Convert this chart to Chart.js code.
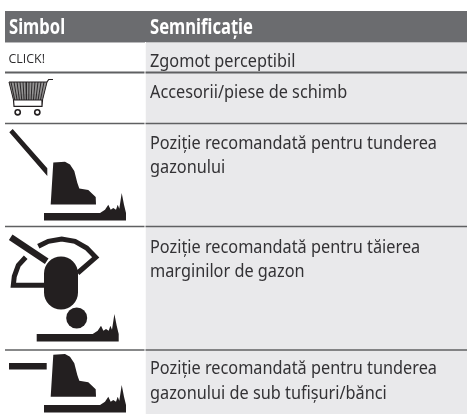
<!DOCTYPE html>
<html>
<head>
<meta charset="utf-8">
<style>
  html, body { margin: 0; padding: 0; background: #fff; }
  canvas { display: block; }
</style>
<script src="https://cdn.jsdelivr.net/npm/chart.js@4/dist/chart.umd.min.js"></script>
</head>
<body>
<canvas id="tableChart" width="467" height="414"></canvas>
<script>
// --- Table content ---
const headerLabels = ['Simbol', 'Semnificație'];
const clickLabel = 'CLICK!';
const meaningLines = [
    ['Zgomot perceptibil'],
    ['Accesorii/piese de schimb'],
    ['Poziție recomandată pentru tunderea', 'gazonului'],
    ['Poziție recomandată pentru tăierea', 'marginilor de gazon'],
    ['Poziție recomandată pentru tunderea', 'gazonului de sub tufișuri/bănci']
];
const meaningBaselines = [
    [66.5],
    [98],
    [148.5, 172.5],
    [252.5, 277],
    [374, 398.5]
];

// --- Table grid ---
const columnEdges = [5, 145, 467];
const headerTopBottom = [11, 42];
const rowEdges = [43, 73, 124, 227, 351, 414];
const ruleLevels = [72.5, 123.5, 226.5, 350];

// --- Icon outlines ---
const machineBody = [[53.3, 354.7], [65, 354], [70, 356.7], [74.3, 363.3], [77.3, 375], [79.3, 380.7], [88.3, 382.3], [95.7, 389.3], [96, 396.7], [50.7, 396.7]];
const groundShape = [[44, 405], [100, 405], [105, 401.7], [108.3, 396.7], [110.7, 401.7], [113.3, 400], [116, 401.7], [117.7, 396.7], [119.3, 400.7], [121.7, 385], [124, 396.7], [126, 405], [126, 412.5], [44, 412.5]];
const leverFlat = [[9, 363], [46.7, 363], [46.7, 369.5], [9, 369.5]];
const leverSloped = [[9.3, 132.3], [12.7, 129], [47.3, 168.3], [47.3, 176]];
const gaugeArcRight = [[38.3, 246.3], [48.3, 241.3], [61.7, 239], [75, 241.3], [86.7, 248], [95.7, 257.3], [77.7, 273]];
const gaugeArcLeft = [[25.7, 257.3], [18.3, 265.3], [14.3, 276.3], [13.3, 285.3], [45, 285.3]];
const gaugeLever = [[10.7, 237.3], [46.7, 261.3]];
const gaugeHead = [[61, 273.5], [61, 292.5]];
const gaugeBall = [[76.7, 318]];
const cartBasket = [[9, 82], [47, 82], [42.5, 100], [13.5, 100]];
const cartRowLevels = [83, 85, 87, 89, 91, 93, 95, 97, 99];
const cartColumnTops = [11, 14, 17, 20, 23, 26, 29, 32, 35, 38, 41, 44];
const cartFrame = [[47, 82], [48.7, 79.5], [53, 79.5]];
const cartRail = [[42.5, 100], [42, 106.3], [14, 106.3], [13.5, 100]];
const cartWheels = [[17.7, 112.3], [37.3, 112.3]];

const toPoints = pts => pts.map(p => ({ x: p[0], y: p[1] }));
const shift = (pts, dx, dy) => pts.map(p => [p[0] + dx, p[1] + dy]);

// --- Dataset helpers ---
const datasets = [];
function addBand(x0, x1, top, bottom, color) {
    datasets.push({
        data: toPoints([[x0, bottom], [x1, bottom]]),
        showLine: true, borderWidth: 0, pointRadius: 0,
        backgroundColor: color, fill: { target: { value: top } }
    });
}
function addShape(pts, color) {
    datasets.push({
        data: toPoints(pts),
        showLine: true, borderWidth: 0, pointRadius: 0,
        backgroundColor: color, fill: 'shape'
    });
}
function addStroke(pts, width, color, cap) {
    datasets.push({
        data: toPoints(pts),
        showLine: true, borderWidth: width, borderColor: color, pointRadius: 0,
        borderCapStyle: cap || 'butt', borderJoinStyle: 'miter', fill: false, spanGaps: false
    });
}
function addDots(pts, radius, fill, border, borderWidth) {
    datasets.push({
        data: toPoints(pts),
        showLine: false, pointRadius: radius, pointBackgroundColor: fill,
        pointBorderColor: border, pointBorderWidth: borderWidth
    });
}

// --- Grid ---
const cellGray = '#e9e9eb';
const ink = '#231f20';
addBand(columnEdges[1] + 0.5, columnEdges[2], rowEdges[0], rowEdges[5], cellGray);
addBand(columnEdges[0], columnEdges[2], headerTopBottom[0], headerTopBottom[1], '#6b6c6f');
addStroke([[columnEdges[0], 42.5], [columnEdges[1], 42.5]], 1, '#b9b9bb');
addStroke([[columnEdges[1] + 1, 42.5], [columnEdges[2], 42.5]], 1, '#c4c4c6');
ruleLevels.forEach((y, i) => {
    const w = i === 0 ? 2 : 1.5;
    addStroke([[columnEdges[0], y], [columnEdges[1] - 0.5, y]], w, '#5f6062');
    addStroke([[columnEdges[1] + 0.5, y], [columnEdges[2], y]], w, '#5f6062');
});

// --- Cart icon ---
addStroke(cartFrame, 1.2, ink);
addStroke(cartRail, 1.2, ink);
cartRowLevels.forEach(y => {
    const inset = (y - 82) * 0.25;
    addStroke([[9 + inset, y], [47 - inset, y]], 1.1, '#2b2829');
});
cartColumnTops.forEach(x => {
    const lean = (28 - x) * 0.22;
    addStroke([[x, 82], [x + lean, 100]], 1, '#2b2829');
});
addStroke(cartBasket.concat([cartBasket[0]]), 1, ink);
addDots(cartWheels, 2.6, '#fff', ink, 1.6);

// --- Mowing position icons ---
addShape(leverSloped, ink);
addShape(shift(machineBody, 0, -192.3), ink);
addShape(shift(groundShape, 0, -192), ink);

addStroke(gaugeArcRight, 5, ink);
addStroke(gaugeArcLeft, 5, ink);
addStroke(gaugeLever, 6.5, ink);
addStroke(gaugeHead, 34, ink, 'round');
addDots(gaugeBall, 10.5, ink, ink, 0);
addShape(shift(groundShape, -7.3, -71), ink);

addShape(leverFlat, ink);
addShape(machineBody, ink);
addShape(groundShape, ink);

datasets.forEach((d, i) => { d.order = datasets.length - i; });

// --- Text is drawn through the same scales as the marks ---
function condensedText(ctx, text, x, y, squeeze) {
    ctx.save();
    ctx.translate(x, y);
    ctx.scale(squeeze, 1);
    ctx.fillText(text, 0, 0);
    ctx.restore();
}
const tableTextPlugin = {
    id: 'tableText',
    afterDraw(chart) {
        const { ctx, scales: { x, y } } = chart;
        ctx.save();
        ctx.textBaseline = 'alphabetic';
        ctx.textAlign = 'left';
        ctx.fillStyle = '#ffffff';
        ctx.font = 'bold 21px "Noto Sans"';
        // widths measured on the reference: Semnificație 103px, longest body line 287px
        const headSqueeze = 103 / ctx.measureText(headerLabels[1]).width;
        condensedText(ctx, headerLabels[0], x.getPixelForValue(9), y.getPixelForValue(34), headSqueeze);
        condensedText(ctx, headerLabels[1], x.getPixelForValue(150), y.getPixelForValue(34), headSqueeze);
        ctx.fillStyle = '#2d2c2e';
        ctx.font = '13.5px "Open Sans"';
        condensedText(ctx, clickLabel, x.getPixelForValue(8.5), y.getPixelForValue(63), 0.92);
        ctx.fillStyle = '#333235';
        ctx.font = '18.5px "Noto Sans"';
        const bodySqueeze = 287 / ctx.measureText(meaningLines[2][0]).width;
        meaningLines.forEach((lines, r) => {
            lines.forEach((line, l) => {
                condensedText(ctx, line, x.getPixelForValue(150), y.getPixelForValue(meaningBaselines[r][l]), bodySqueeze);
            });
        });
        ctx.restore();
    }
};

new Chart(document.getElementById('tableChart'), {
    type: 'scatter',
    data: { datasets },
    plugins: [tableTextPlugin],
    options: {
        responsive: false,
        animation: false,
        layout: { padding: 0, autoPadding: false },
        plugins: { legend: { display: false }, tooltip: { enabled: false } },
        scales: {
            x: { type: 'linear', min: 0, max: 467, display: false },
            y: { type: 'linear', min: 0, max: 414, reverse: true, display: false }
        }
    }
});
</script>
</body>
</html>
